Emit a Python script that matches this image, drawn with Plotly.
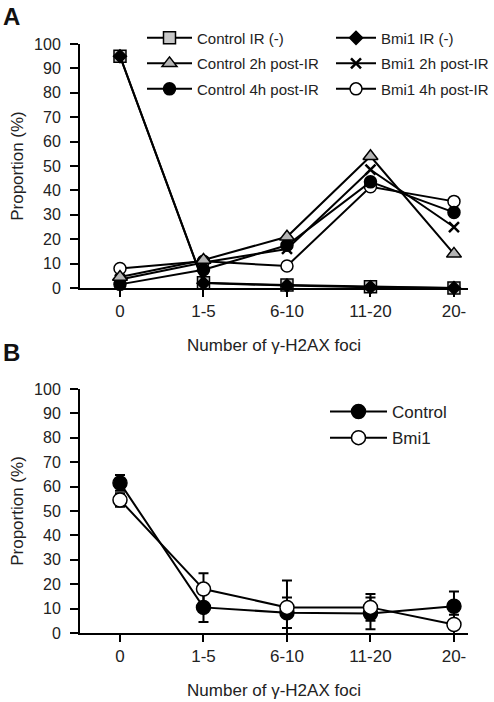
import plotly.graph_objects as go

categories = ["0", "1-5", "6-10", "11-20", "20-"]

# Panel A
ctrl_ir_neg = [95, 2.2, 1.2, 0.5, 0]
bmi1_ir_neg = [95, 2.0, 1.0, 0.3, 0]
ctrl_2h = [4.5, 11.5, 21, 54, 14]
bmi1_2h = [3.5, 10.5, 16, 48.5, 25]
ctrl_4h = [1.5, 7.5, 17.5, 43.5, 31]
bmi1_4h = [8, 11, 9, 41.5, 35.5]

# Panel B
ctrl_b = [61.5, 10.5, 8.3, 8, 11]
ctrl_b_err = [3.2, 6, 6.3, 6.5, 6]
bmi1_b = [54.5, 18, 10.5, 10.5, 3.5]
bmi1_b_err = [2.8, 6.5, 11, 5.5, 4]

yticks = list(range(0, 101, 10))
xpos = list(range(len(categories)))

FONT = "Arial, Liberation Sans, sans-serif"
LINE = dict(color="black", width=2)

fig = go.Figure()

def add(y, name, symbol, fill, size, xa, ya, legend, rank, lw=1.5, err=None):
    fig.add_trace(go.Scatter(
        x=xpos, y=y, name=name, mode="lines+markers",
        xaxis=xa, yaxis=ya, legend=legend, legendgroup=name, legendrank=rank,
        cliponaxis=False,
        line=LINE,
        marker=dict(symbol=symbol, size=size, color=fill,
                    line=dict(color="black", width=lw)),
        error_y=None if err is None else dict(type="data", array=err, visible=True,
                                              color="black", thickness=2, width=5),
    ))

# drawn bottom-to-top; legend order fixed by rank
add(bmi1_4h, "Bmi1 4h post-IR", "circle", "white", 12, "x", "y", "legend2", 3)
add(bmi1_2h, "Bmi1 2h post-IR", "x-thin", "black", 10, "x", "y", "legend2", 2, lw=2.5)
add(ctrl_4h, "Control 4h post-IR", "circle", "black", 12, "x", "y", "legend", 3)
add(ctrl_2h, "Control 2h post-IR", "triangle-up", "#b4b4b4", 13, "x", "y", "legend", 2)
add(ctrl_ir_neg, "Control IR (-)", "square", "#c8c8c8", 12, "x", "y", "legend", 1)
add(bmi1_ir_neg, "Bmi1 IR (-)", "diamond", "black", 10, "x", "y", "legend2", 1)

add(ctrl_b, "Control", "circle", "black", 14, "x2", "y2", "legend3", 1, err=ctrl_b_err)
add(bmi1_b, "Bmi1", "circle", "white", 14, "x2", "y2", "legend3", 2, err=bmi1_b_err)

xrange = [-0.479, 4.168]
xaxis_common = dict(range=xrange, tickmode="array", tickvals=xpos, ticktext=categories,
                    showline=True, linecolor="black", linewidth=2,
                    ticks="outside", ticklen=7, tickwidth=2, tickcolor="black",
                    showgrid=False, zeroline=False,
                    tickfont=dict(size=17, color="#222"),
                    title=dict(text="Number of γ-H2AX foci", font=dict(size=17, color="#222"),
                               standoff=19))
yaxis_common = dict(range=[0, 100], tickmode="array", tickvals=yticks,
                    showline=True, linecolor="black", linewidth=2,
                    ticks="outside", ticklen=8, tickwidth=2, tickcolor="black",
                    ticklabelstandoff=6,
                    showgrid=False, zeroline=False,
                    tickfont=dict(size=16, color="#222"),
                    title=dict(text="Proportion (%)", font=dict(size=17, color="#222"),
                               standoff=6))

fig.update_layout(
    width=494, height=702,
    margin=dict(l=80, r=26, t=44, b=69, autoexpand=False),
    paper_bgcolor="white", plot_bgcolor="white",
    font=dict(family=FONT, color="#222"),
    xaxis=dict(domain=[0, 1], anchor="y", **xaxis_common),
    yaxis=dict(domain=[0.5857, 1], anchor="x", **yaxis_common),
    xaxis2=dict(domain=[0, 1], anchor="y2", **xaxis_common),
    yaxis2=dict(domain=[0, 0.4143], anchor="x2", **yaxis_common),
    legend=dict(x=(142 - 80) / 388, y=1.038, xanchor="left", yanchor="top",
                bgcolor="rgba(0,0,0,0)", font=dict(size=15, color="#222"),
                tracegroupgap=3, itemwidth=45),
    legend2=dict(x=(494 - 80) / 388, y=1.038, xanchor="right", yanchor="top",
                 bgcolor="rgba(0,0,0,0)", font=dict(size=15, color="#222"),
                 tracegroupgap=3, itemwidth=40),
    legend3=dict(x=(325 - 80) / 388, y=0.4058, xanchor="left", yanchor="top",
                 bgcolor="rgba(0,0,0,0)", font=dict(size=17, color="#222"),
                 tracegroupgap=1, itemwidth=57),
    annotations=[
        dict(text="<b>A</b>", x=(11 - 80) / 388, y=1.0475, xref="paper", yref="paper",
             showarrow=False, font=dict(size=24, color="#111"), xanchor="center", yanchor="middle"),
        dict(text="<b>B</b>", x=(11 - 80) / 388, y=0.477, xref="paper", yref="paper",
             showarrow=False, font=dict(size=24, color="#111"), xanchor="center", yanchor="middle"),
    ],
)

fig.write_html("out.html", config={"displayModeBar": False},
               post_script="document.body.style.margin='0';")
